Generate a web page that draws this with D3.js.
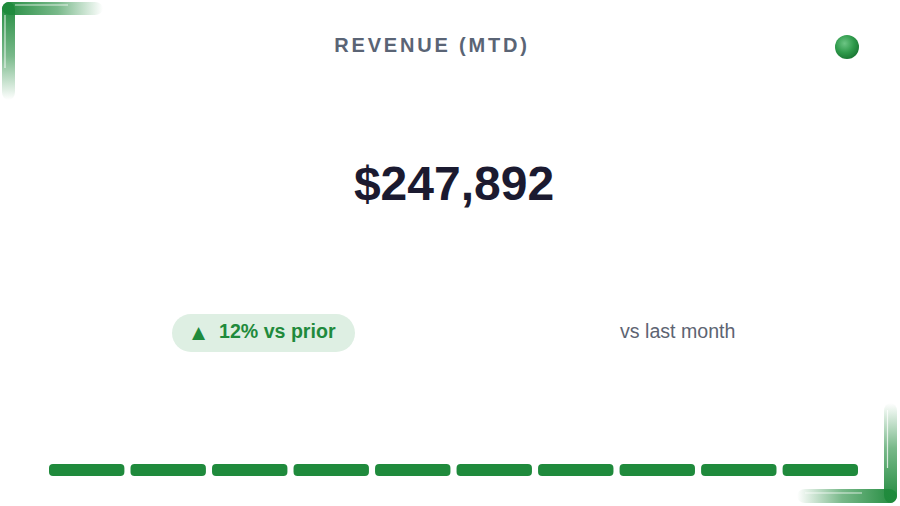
<!DOCTYPE html>
<html>
<head>
<meta charset="utf-8">
<script src="https://cdn.jsdelivr.net/npm/d3@7"></script>
<style>
  html, body { margin: 0; padding: 0; background: #ffffff; }
  svg { display: block; font-family: "Liberation Sans", Arial, sans-serif; }
</style>
</head>
<body>
<div class="kpiHolder"></div>
<script>
// KPI card data
const titleText = "REVENUE (MTD)";
const kpiValue = 247892;
const changePct = [12];
const changeLabels = ["vs prior"];
const compareLabel = "vs last month";
// progress strip, one entry per segment (1 = filled)
const segmentIds = ["s1", "s2", "s3", "s4", "s5", "s6", "s7", "s8", "s9", "s10"];
const segmentFilled = [1, 1, 1, 1, 1, 1, 1, 1, 1, 1];

const green = "#1f8a3c";

const w = 900, h = 506;
const svg = d3.select(".kpiHolder").append("svg")
  .attr("width", w)
  .attr("height", h);

const defs = svg.append("defs");

// gradients for the corner brackets
const addGrad = (id, x1, y1, x2, y2) => {
  const g = defs.append("linearGradient").attr("id", id)
    .attr("x1", x1).attr("y1", y1).attr("x2", x2).attr("y2", y2);
  g.append("stop").attr("offset", "0%").attr("stop-color", green).attr("stop-opacity", 1);
  g.append("stop").attr("offset", "55%").attr("stop-color", green).attr("stop-opacity", 0.6);
  g.append("stop").attr("offset", "100%").attr("stop-color", green).attr("stop-opacity", 0);
};
addGrad("gradRight", "0%", "0%", "100%", "0%");
addGrad("gradDown", "0%", "0%", "0%", "100%");
addGrad("gradLeft", "100%", "0%", "0%", "0%");
addGrad("gradUp", "0%", "100%", "0%", "0%");

const dotGrad = defs.append("radialGradient").attr("id", "dotGrad")
  .attr("cx", "40%").attr("cy", "35%").attr("r", "65%");
dotGrad.append("stop").attr("offset", "0%").attr("stop-color", "#6cc584");
dotGrad.append("stop").attr("offset", "60%").attr("stop-color", "#2f9a4b");
dotGrad.append("stop").attr("offset", "100%").attr("stop-color", "#1c7a35");

// top-left bracket
const tl = svg.append("g");
tl.append("rect").attr("x", 2).attr("y", 2).attr("width", 101).attr("height", 13)
  .attr("rx", 8).attr("fill", "url(#gradRight)");
tl.append("rect").attr("x", 2).attr("y", 2).attr("width", 13).attr("height", 98)
  .attr("rx", 8).attr("fill", "url(#gradDown)");
tl.append("line").attr("x1", 15).attr("y1", 5).attr("x2", 68).attr("y2", 5)
  .attr("stroke", "#fff").attr("stroke-opacity", 0.75).attr("stroke-width", 1.2);
tl.append("line").attr("x1", 5).attr("y1", 15).attr("x2", 5).attr("y2", 68)
  .attr("stroke", "#fff").attr("stroke-opacity", 0.75).attr("stroke-width", 1.2);

// bottom-right bracket
const br = svg.append("g");
br.append("rect").attr("x", 797).attr("y", 489).attr("width", 100).attr("height", 14)
  .attr("rx", 8).attr("fill", "url(#gradLeft)");
br.append("rect").attr("x", 884).attr("y", 403).attr("width", 13).attr("height", 100)
  .attr("rx", 8).attr("fill", "url(#gradUp)");
br.append("line").attr("x1", 805).attr("y1", 493).attr("x2", 862).attr("y2", 493)
  .attr("stroke", "#fff").attr("stroke-opacity", 0.75).attr("stroke-width", 1.2);
br.append("line").attr("x1", 887.5).attr("y1", 410).attr("x2", 887.5).attr("y2", 468)
  .attr("stroke", "#fff").attr("stroke-opacity", 0.75).attr("stroke-width", 1.2);

// status dot
svg.append("circle")
  .attr("cx", 847).attr("cy", 47).attr("r", 12)
  .attr("fill", "url(#dotGrad)");

// title
svg.append("text")
  .attr("x", 432)
  .attr("y", 52)
  .attr("text-anchor", "middle")
  .attr("font-size", 20)
  .attr("font-weight", "bold")
  .attr("letter-spacing", 2.8)
  .attr("fill", "#5a6475")
  .text(titleText);

// main value
svg.append("text")
  .attr("x", 454)
  .attr("y", 200)
  .attr("text-anchor", "middle")
  .attr("font-size", 48)
  .attr("font-weight", "bold")
  .attr("fill", "#1b1a30")
  .text("$" + d3.format(",")(kpiValue));

// change badge
const badge = svg.append("g");
badge.append("rect")
  .attr("x", 172).attr("y", 314).attr("width", 183).attr("height", 38)
  .attr("rx", 19)
  .attr("fill", "#deefe3");
badge.append("text")
  .attr("x", 192).attr("y", 338)
  .attr("font-size", 17)
  .attr("font-family", "DejaVu Sans, sans-serif")
  .attr("fill", green)
  .text("▲");
badge.append("text")
  .attr("x", 219).attr("y", 338)
  .attr("font-size", 19.6)
  .attr("font-weight", "bold")
  .attr("fill", green)
  .text(`${changePct[0]}% ${changeLabels[0]}`);

svg.append("text")
  .attr("x", 620).attr("y", 338)
  .attr("font-size", 19.6)
  .attr("fill", "#5d6472")
  .text(compareLabel);

// segmented progress strip
const xScale = d3.scaleBand()
  .domain(segmentIds)
  .range([49, 858])
  .paddingInner(0.075);

svg.append("g").selectAll("rect")
  .data(segmentIds)
  .enter()
  .append("rect")
  .attr("x", d => xScale(d))
  .attr("y", 464)
  .attr("width", xScale.bandwidth())
  .attr("height", 12)
  .attr("rx", 4)
  .attr("fill", (d, i) => segmentFilled[i] ? green : "#e3e7ea");
</script>
</body>
</html>
